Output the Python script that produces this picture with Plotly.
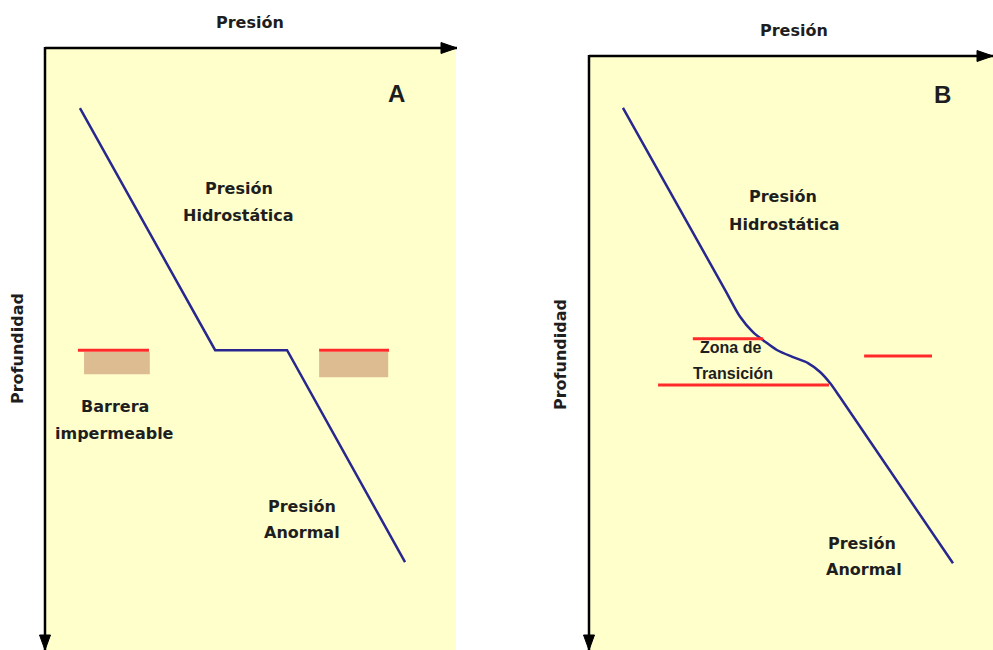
import plotly.graph_objects as go

# ---------------- data ----------------
# Panel A: pressure (x, 0-100) vs depth (y, 0-100, downward)
pressure_A = [8.5, 41.4, 58.9, 87.6]
depth_A = [10.0, 50.2, 50.2, 85.4]

# impermeable barrier in panel A (red top line + wood block)
barrier_A_x0 = [8.0, 66.7]
barrier_A_x1 = [25.3, 83.7]
barrier_A_top = [50.2, 50.2]
wood_A_x0 = [9.5, 66.7]
wood_A_x1 = [25.5, 83.5]
wood_A_y0 = [50.5, 50.5]
wood_A_y1 = [54.2, 54.7]

# Panel B: smooth transition curve
pressure_B = [8.4, 33.7, 37.4, 40.6, 43.6, 46.5, 50.5, 54.2, 57.2, 59.7, 62.1, 90.1]
depth_B = [8.75, 39.4, 43.9, 46.5, 48.1, 49.5, 50.7, 51.7, 53.2, 55.1, 57.4, 85.4]

# transition-zone red markers in panel B
zone_B_x0 = [25.7, 17.1, 68.1]
zone_B_x1 = [43.1, 59.4, 84.9]
zone_B_depth = [47.6, 55.4, 50.5]

W, H = 993, 650
BLUE = "#27278f"
RED = "#ff2b2b"
WOOD = "#dcbc90"
YELLOW = "#ffffcc"
TXT = "#1e1e1e"
FONT = "DejaVu Sans"


def px(x):
    return x / W


def py(y):
    return 1 - y / H


fig = go.Figure()

# Panel A curve
fig.add_trace(go.Scatter(x=pressure_A, y=depth_A, mode="lines",
                         line=dict(color=BLUE, width=2.5),
                         xaxis="x", yaxis="y", hoverinfo="skip"))

# Panel A barrier lines
bx, by = [], []
for a, b, d in zip(barrier_A_x0, barrier_A_x1, barrier_A_top):
    bx += [a, b, None]
    by += [d, d, None]
fig.add_trace(go.Scatter(x=bx, y=by, mode="lines", line=dict(color=RED, width=3),
                         xaxis="x", yaxis="y", hoverinfo="skip"))

# Panel B curve
fig.add_trace(go.Scatter(x=pressure_B, y=depth_B, mode="lines",
                         line=dict(color=BLUE, width=2.5, shape="spline", smoothing=0.8),
                         xaxis="x2", yaxis="y2", hoverinfo="skip"))

# Panel B transition lines
zx, zy = [], []
for a, b, d in zip(zone_B_x0, zone_B_x1, zone_B_depth):
    zx += [a, b, None]
    zy += [d, d, None]
fig.add_trace(go.Scatter(x=zx, y=zy, mode="lines", line=dict(color=RED, width=3),
                         xaxis="x2", yaxis="y2", hoverinfo="skip"))

shapes = []
# wood blocks
for a, b, t, bt in zip(wood_A_x0, wood_A_x1, wood_A_y0, wood_A_y1):
    shapes.append(dict(type="rect", xref="x", yref="y", x0=a, x1=b, y0=t, y1=bt,
                       fillcolor=WOOD, line=dict(width=0), layer="below"))

# axis lines with arrows (pixel positions converted to paper)
def axis_arrow(x0, y0, x1, y1, direction):
    shapes.append(dict(type="line", xref="paper", yref="paper",
                       x0=px(x0), y0=py(y0), x1=px(x1), y1=py(y1),
                       line=dict(color="black", width=2.5)))
    if direction == "right":
        path = f"M {px(x1)},{py(y1)} L {px(x1-16)},{py(y1-5.5)} L {px(x1-16)},{py(y1+5.5)} Z"
    else:
        path = f"M {px(x1)},{py(y1)} L {px(x1-5.5)},{py(y1-15)} L {px(x1+5.5)},{py(y1-15)} Z"
    shapes.append(dict(type="path", xref="paper", yref="paper", path=path,
                       fillcolor="black", line=dict(color="black", width=1)))

axis_arrow(45, 48, 457, 48, "right")
axis_arrow(45, 47, 45, 650, "down")
axis_arrow(589, 56, 993, 56, "right")
axis_arrow(589, 55, 589, 650, "down")

ann = []

def txt(x, y, s, ref, size=16, family=FONT, angle=0):
    xr, yr = ref
    ann.append(dict(x=x, y=y, xref=xr, yref=yr, text=f"<b>{s}</b>", showarrow=False,
                    font=dict(family=family, size=size, color=TXT), textangle=angle,
                    xanchor="center", yanchor="middle"))

A = ("x", "y")
B = ("x2", "y2")
P = ("paper", "paper")

txt(47.2, 23.4, "Presión", A)
txt(47.2, 27.9, "Hidrostática", A)
txt(17.0, 59.6, "Barrera", A)
txt(16.8, 64.0, "impermeable", A)
txt(62.5, 76.1, "Presión", A)
txt(62.5, 80.4, "Anormal", A)
txt(85.6, 7.6, "A", A, size=24, family="Liberation Sans")

txt(48.0, 23.7, "Presión", B)
txt(48.5, 28.3, "Hidrostática", B)
txt(35.1, 49.0, "Zona de", B, size=16, family="Liberation Sans")
txt(35.6, 53.4, "Transición", B, size=16, family="Liberation Sans")
txt(67.6, 82.0, "Presión", B)
txt(68.1, 86.5, "Anormal", B)
txt(87.4, 6.4, "B", B, size=24, family="Liberation Sans")

txt(px(250), py(22), "Presión", P)
txt(px(794), py(30), "Presión", P)
txt(px(17), py(349), "Profundidad", P, angle=-90)
txt(px(561), py(355), "Profundidad", P, angle=-90)

ax_common = dict(showgrid=False, zeroline=False, showticklabels=False, ticks="",
                 showline=False, fixedrange=True)

fig.update_layout(
    width=W, height=H,
    margin=dict(l=0, r=0, t=0, b=0),
    paper_bgcolor="white",
    plot_bgcolor=YELLOW,
    showlegend=False,
    shapes=shapes,
    annotations=ann,
    xaxis=dict(domain=[px(45), px(456)], range=[0, 100], **ax_common),
    yaxis=dict(domain=[0, py(48)], range=[100, 0], **ax_common),
    xaxis2=dict(domain=[px(589), 1.0], range=[0, 100], anchor="y2", **ax_common),
    yaxis2=dict(domain=[0, py(56)], range=[100, 0], anchor="x2", **ax_common),
)

fig.write_html("out.html", config={"displayModeBar": False},
               post_script="document.body.style.margin='0';document.body.style.overflow='hidden';")
